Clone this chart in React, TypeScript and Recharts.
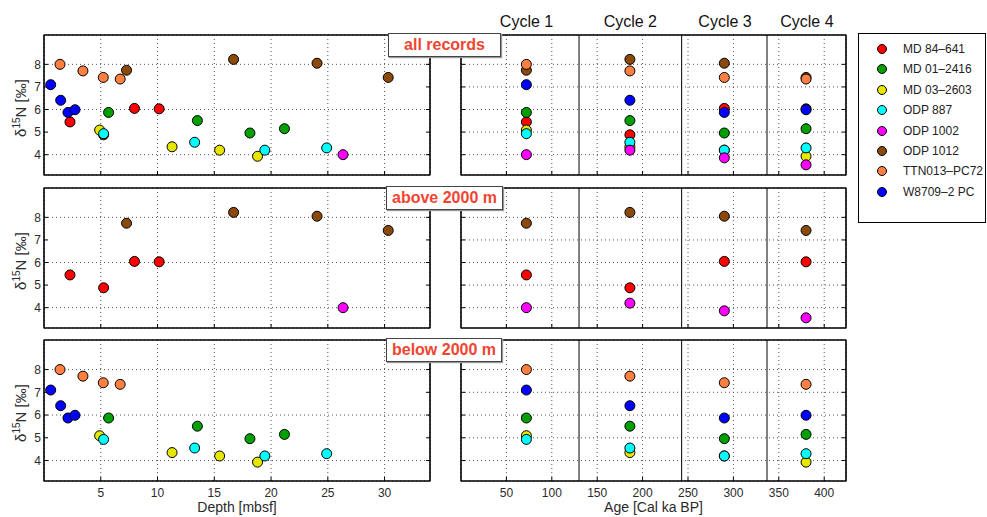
import React from "react";
import { ScatterChart, Scatter, XAxis, YAxis, CartesianGrid, ReferenceLine, ReferenceArea } from "recharts";

const seriesNames = ["MD 84–641", "MD 01–2416", "MD 03–2603", "ODP 887", "ODP 1002", "ODP 1012", "TTN013–PC72", "W8709–2 PC"];
const seriesColors = ["#ff0000", "#00a000", "#e6e600", "#00ffff", "#ff00ff", "#8b4a0c", "#ff8040", "#0000ff"];

// glacial cycles (age axis)
const cycleNames = ["Cycle 1", "Cycle 2", "Cycle 3", "Cycle 4"];
const cycleAges = [72, 186, 290, 380];
const cycleBounds = [130, 243, 337];

// d15N [permil] per cycle, one array per core
const d15nMd84 = [5.45, 4.88, 6.05, 6.03];
const d15nMd01 = [5.87, 5.51, 4.96, 5.15];
const d15nMd03 = [5.09, 4.35, 4.2, 3.93];
const d15nOdp887 = [4.93, 4.55, 4.2, 4.3];
const d15nOdp1002 = [4.0, 4.2, 3.86, 3.55];
const d15nOdp1012 = [7.74, 8.22, 8.05, 7.42];
const d15nTtn013 = [8.0, 7.71, 7.42, 7.35];
const d15nW8709 = [7.1, 6.41, 5.87, 5.99];

// depth [mbsf] of each sample (null = off the depth axis)
const depthMd84 = [2.29, 5.25, 7.97, 10.14];
const depthMd01 = [5.69, 13.51, 18.14, 21.18];
const depthMd03 = [4.9, 11.28, 15.47, 18.81];
const depthOdp887 = [5.25, 13.27, 19.45, 24.9];
const depthOdp1002 = [26.34, null, null, null];
const depthOdp1012 = [7.27, 16.7, 24.05, 30.32];
const depthTtn013 = [1.41, 3.43, 5.22, 6.71];
const depthW8709 = [0.59, 1.47, 2.11, 2.73];

const depthTicks = [5, 10, 15, 20, 25, 30];
const ageTicks = [50, 100, 150, 200, 250, 300, 350, 400];
const d15nTicks = [4, 5, 6, 7, 8];

const allCores = [0, 1, 2, 3, 4, 5, 6, 7];
const aboveCores = [0, 4, 5];
const belowCores = [1, 2, 3, 6, 7];

const d15nByCore = [d15nMd84, d15nMd01, d15nMd03, d15nOdp887, d15nOdp1002, d15nOdp1012, d15nTtn013, d15nW8709];
const depthByCore = [depthMd84, depthMd01, depthMd03, depthOdp887, depthOdp1002, depthOdp1012, depthTtn013, depthW8709];

const DEPTH_DOMAIN: [number, number] = [0, 34];
const AGE_DOMAIN: [number, number] = [0, 424];
const Y_DOMAIN: [number, number] = [3.1, 9.3];

const PLOT_H = 142;
const ROW_TOPS = [34, 186.5, 339];
const TITLE_RED = "#f04530";
const TICK_STYLE = { fill: "#2a2a2a", fontSize: 12 };
const blank = () => "";

function points(core: number, side: string) {
  const ys = d15nByCore[core];
  const xs = side === "depth" ? depthByCore[core] : cycleAges;
  return ys
    .map((y, k) => ({ x: xs[k], y }))
    .filter((p) => p.x !== null && p.x !== undefined);
}

const dot = (color: string) => (props: any) => (
  <circle cx={props.cx} cy={props.cy} r={5} fill={color} stroke="#000" strokeWidth={1} />
);

function Panel({ row, side, cores }: { row: number; side: string; cores: number[] }) {
  const isDepth = side === "depth";
  const last = row === 2;
  const left = isDepth ? 0 : 452;
  const width = isDepth ? 440 : 400;
  const height = 5 + PLOT_H + (last ? 36 : 5);
  const xDomain = isDepth ? DEPTH_DOMAIN : AGE_DOMAIN;
  const xTicks = isDepth ? depthTicks : ageTicks;

  return (
    <div style={{ position: "absolute", left, top: ROW_TOPS[row] - 5 }}>
      <ScatterChart
        width={width}
        height={height}
        margin={{ top: 5, right: isDepth ? 9 : 5, left: 0, bottom: last ? 0 : 5 }}
      >
        <CartesianGrid stroke="#555" strokeDasharray="1 3" />
        <XAxis
          type="number"
          dataKey="x"
          domain={xDomain}
          ticks={xTicks}
          allowDataOverflow
          height={last ? 36 : 1}
          tickSize={-4}
          tickMargin={11}
          axisLine={{ stroke: "#000" }}
          tickLine={{ stroke: "#000" }}
          tick={TICK_STYLE}
          tickFormatter={last ? undefined : blank}
          label={
            last
              ? {
                  value: isDepth ? "Depth [mbsf]" : "Age [Cal ka BP]",
                  position: "insideBottom",
                  offset: 5,
                  fill: "#2a2a2a",
                  fontSize: 14,
                }
              : undefined
          }
        />
        <XAxis
          xAxisId="top"
          orientation="top"
          type="number"
          domain={xDomain}
          ticks={xTicks}
          allowDataOverflow
          height={1}
          tickSize={-4}
          axisLine={{ stroke: "#000" }}
          tickLine={{ stroke: "#000" }}
          tickFormatter={blank}
        />
        <YAxis
          type="number"
          dataKey="y"
          domain={Y_DOMAIN}
          ticks={d15nTicks}
          allowDataOverflow
          width={isDepth ? 44 : 9}
          tickSize={-4}
          tickMargin={7}
          axisLine={{ stroke: "#000" }}
          tickLine={{ stroke: "#000" }}
          tick={TICK_STYLE}
          tickFormatter={isDepth ? undefined : blank}
        />
        <YAxis
          yAxisId="right"
          orientation="right"
          type="number"
          domain={Y_DOMAIN}
          ticks={d15nTicks}
          allowDataOverflow
          width={1}
          tickSize={-4}
          axisLine={{ stroke: "#000" }}
          tickLine={{ stroke: "#000" }}
          tickFormatter={blank}
        />
        <ReferenceArea
          x1={xDomain[0]}
          x2={xDomain[1]}
          y1={Y_DOMAIN[0]}
          y2={Y_DOMAIN[1]}
          fill="none"
          fillOpacity={0}
          stroke="#000"
          strokeWidth={1.2}
          ifOverflow="visible"
        />
        {!isDepth &&
          cycleBounds.map((b) => (
            <ReferenceLine key={b} x={b} stroke="#000" strokeWidth={1} />
          ))}
        {cores.map((c) => (
          <Scatter
            key={c}
            name={seriesNames[c]}
            data={points(c, side)}
            fill={seriesColors[c]}
            shape={dot(seriesColors[c])}
            isAnimationActive={false}
          />
        ))}
      </ScatterChart>
    </div>
  );
}

const titleBoxes = [
  { text: "all records", left: 388, top: 33, width: 113 },
  { text: "above 2000 m", left: 386, top: 186, width: 117 },
  { text: "below 2000 m", left: 386, top: 338, width: 116 },
];

function YLabel({ row }: { row: number }) {
  return (
    <div
      style={{
        position: "absolute",
        left: 20,
        top: ROW_TOPS[row] + PLOT_H / 2 + 3,
        transform: "translate(-50%, -50%) rotate(-90deg)",
        whiteSpace: "nowrap",
        fontSize: 15,
        color: "#2a2a2a",
      }}
    >
      δ<span style={{ fontSize: 10, position: "relative", top: -6 }}>15</span>N [‰]
    </div>
  );
}

export default function App() {
  const rows = [allCores, aboveCores, belowCores];
  return (
    <div
      style={{
        position: "absolute",
        left: 0,
        top: 0,
        width: 987,
        height: 517,
        background: "#fff",
        fontFamily: "'Liberation Sans', Arial, sans-serif",
        overflow: "hidden",
      }}
    >
      {rows.map((cores, r) => (
        <React.Fragment key={r}>
          <Panel row={r} side="depth" cores={cores} />
          <Panel row={r} side="age" cores={cores} />
          <YLabel row={r} />
        </React.Fragment>
      ))}

      {cycleNames.map((name, k) => (
        <div
          key={name}
          style={{
            position: "absolute",
            left: 461 + (cycleAges[k] / AGE_DOMAIN[1]) * 386,
            top: 22,
            transform: "translate(-50%, -50%)",
            fontSize: 16,
            whiteSpace: "nowrap",
            color: "#111",
          }}
        >
          {name}
        </div>
      ))}

      {titleBoxes.map((t) => (
        <div
          key={t.text}
          style={{
            position: "absolute",
            left: t.left,
            top: t.top,
            width: t.width,
            height: 24,
            boxSizing: "border-box",
            background: "#fff",
            border: "1px solid #444",
            boxShadow: "1px 1px 1px #999",
            color: TITLE_RED,
            fontWeight: "bold",
            fontSize: 16,
            lineHeight: "22px",
            textAlign: "center",
          }}
        >
          {t.text}
        </div>
      ))}

      <div
        style={{
          position: "absolute",
          left: 858,
          top: 33,
          width: 128,
          height: 190,
          boxSizing: "border-box",
          border: "1px solid #000",
          background: "#fff",
        }}
      >
        {seriesNames.map((name, i) => (
          <div
            key={name}
            style={{ position: "absolute", left: 0, top: 15 + i * 20.4, height: 0 }}
          >
            <div
              style={{
                position: "absolute",
                left: 18,
                top: -5,
                width: 10,
                height: 10,
                boxSizing: "border-box",
                borderRadius: "50%",
                border: "1px solid #000",
                background: seriesColors[i],
              }}
            />
            <div
              style={{
                position: "absolute",
                left: 44,
                top: -8,
                fontSize: 12,
                lineHeight: "16px",
                whiteSpace: "nowrap",
                color: "#222",
              }}
            >
              {name}
            </div>
          </div>
        ))}
      </div>
    </div>
  );
}
